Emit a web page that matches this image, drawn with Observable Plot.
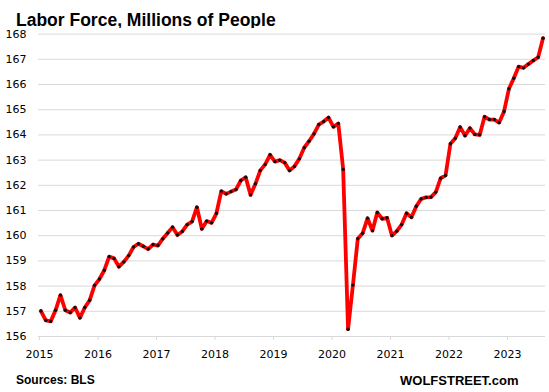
<!DOCTYPE html>
<html><head><meta charset="utf-8">
<script src="https://cdn.jsdelivr.net/npm/d3@7"></script>
<script src="https://cdn.jsdelivr.net/npm/@observablehq/plot@0.6"></script>
<style>
body{margin:0;background:#fff;}
#wrap{width:549px;height:392px;position:relative;overflow:hidden;background:#fff;}
#title{position:absolute;left:16px;top:10px;line-height:20px;font:bold 17.5px "Liberation Sans",Arial,sans-serif;color:#000;white-space:nowrap;}
#chart{position:absolute;left:0;top:28px;}
.foot{position:absolute;top:373px;line-height:16px;font:bold 13px "Liberation Sans",Arial,sans-serif;color:#000;white-space:nowrap;}
#src{left:16px;font-size:12px;}
#brand{left:400px;}
</style></head>
<body>
<div id="wrap">
  <div id="title">Labor Force, Millions of People</div>
  <div id="chart"></div>
  <div class="foot" id="src">Sources: BLS</div>
  <div class="foot" id="brand">WOLFSTREET.com</div>
</div>
<script>
const years = [2015, 2016, 2017, 2018, 2019, 2020, 2021, 2022, 2023];
const v2015 = [157.01, 156.64, 156.60, 157.04, 157.64, 157.04, 156.95, 157.15, 156.74, 157.15, 157.44, 158.03];
const v2016 = [158.28, 158.63, 159.17, 159.10, 158.77, 158.96, 159.21, 159.55, 159.68, 159.58, 159.47, 159.65];
const v2017 = [159.61, 159.88, 160.11, 160.34, 160.03, 160.17, 160.44, 160.56, 161.13, 160.27, 160.58, 160.51];
const v2018 = [160.89, 161.77, 161.66, 161.75, 161.83, 162.19, 162.32, 161.62, 162.06, 162.59, 162.83, 163.21];
const v2019 = [162.94, 163.00, 162.90, 162.59, 162.75, 163.05, 163.49, 163.75, 164.04, 164.41, 164.53, 164.69];
const v2020 = [164.32, 164.45, 162.63, 156.29, 158.04, 159.88, 160.10, 160.69, 160.20, 160.92, 160.67, 160.71];
const v2021 = [160.01, 160.18, 160.44, 160.89, 160.73, 161.17, 161.46, 161.52, 161.53, 161.73, 162.28, 162.39];
const v2022 = [163.65, 163.87, 164.31, 163.97, 164.27, 164.02, 164.00, 164.72, 164.61, 164.61, 164.49, 164.93];
const v2023 = [165.83, 166.25, 166.71, 166.66, 166.81, 166.95, 167.08, 167.84];
const yTicks = [156, 157, 158, 159, 160, 161, 162, 163, 164, 165, 166, 167, 168];

const series = [v2015, v2016, v2017, v2018, v2019, v2020, v2021, v2022, v2023];
const data = [];
series.forEach((arr, i) => arr.forEach((v, m) => data.push({t: years[i] + (m + 0.5) / 12, v})));

const chart = Plot.plot({
  width: 549,
  height: 340,
  marginTop: 5.6,
  marginBottom: 32,
  marginLeft: 38,
  marginRight: 4,
  style: {background: "#fff", color: "#000", fontFamily: "'DejaVu Sans', Verdana, sans-serif"},
  x: {domain: [2015, 2023.667], label: null},
  y: {domain: [156, 168], label: null},
  marks: [
    Plot.gridY(yTicks, {stroke: "#d9d9d9", strokeOpacity: 1, strokeWidth: 1}),
    Plot.axisY(yTicks, {tickSize: 0, tickPadding: 12, tickFormat: d => String(d), fontSize: 11, label: null}),
    Plot.axisX(years, {tickSize: 4, tickPadding: 10, stroke: "#d9d9d9", strokeOpacity: 1, tickFormat: d => String(d), fontSize: 11, dx: 1, label: null}),
    Plot.line(data, {x: "t", y: "v", stroke: "#ff0000", strokeWidth: 3.8, strokeLinejoin: "round", strokeLinecap: "round"}),
    Plot.dot(data, {x: "t", y: "v", r: 1.7, fill: "#111", stroke: "none"})
  ]
});
document.getElementById("chart").appendChild(chart);
</script>
</body></html>
